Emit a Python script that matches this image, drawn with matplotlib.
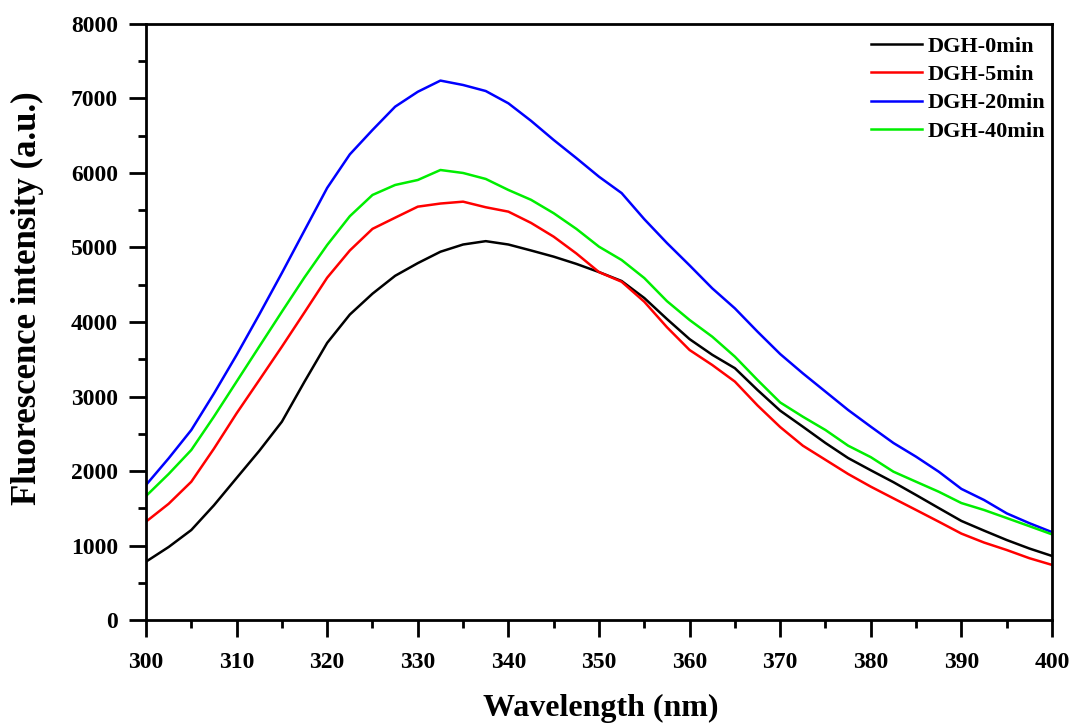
import matplotlib
matplotlib.use('Agg')
import matplotlib.pyplot as plt
from matplotlib.ticker import MultipleLocator
from matplotlib import rcParams
rcParams['font.family'] = 'serif'
rcParams['font.serif'] = ['Liberation Serif', 'DejaVu Serif']
rcParams['font.weight'] = 'bold'

# wavelength (nm)
wl = [300, 302.5, 305, 307.5, 310, 312.5, 315, 317.5, 320, 322.5, 325, 327.5,
      330, 332.5, 335, 337.5, 340, 342.5, 345, 347.5, 350, 352.5, 355, 357.5,
      360, 362.5, 365, 367.5, 370, 372.5, 375, 377.5, 380, 382.5, 385, 387.5,
      390, 392.5, 395, 397.5, 400]

dgh_0 = [783, 980, 1208, 1540, 1906, 2270, 2662, 3200, 3720, 4100, 4380, 4620,
         4790, 4943, 5040, 5085, 5040, 4960, 4877, 4780, 4670, 4550, 4322, 4040,
         3770, 3560, 3380, 3087, 2810, 2595, 2376, 2174, 2010, 1850, 1678, 1503,
         1330, 1200, 1074, 960, 860]
dgh_5 = [1320, 1560, 1856, 2300, 2774, 3220, 3669, 4130, 4595, 4960, 5250, 5400,
         5548, 5590, 5615, 5540, 5481, 5330, 5145, 4920, 4670, 4540, 4272, 3930,
         3624, 3423, 3200, 2880, 2590, 2340, 2150, 1960, 1790, 1633, 1477, 1320,
         1160, 1040, 940, 830, 740]
dgh_20 = [1812, 2170, 2550, 3040, 3557, 4100, 4658, 5230, 5800, 6250, 6577, 6890,
          7090, 7240, 7181, 7100, 6935, 6700, 6443, 6200, 5950, 5730, 5380, 5060,
          4760, 4452, 4183, 3870, 3570, 3311, 3065, 2819, 2595, 2376, 2192, 1991,
          1760, 1611, 1432, 1300, 1180]
dgh_40 = [1664, 1960, 2282, 2730, 3200, 3670, 4138, 4600, 5034, 5420, 5705, 5839,
          5906, 6040, 6000, 5920, 5772, 5640, 5460, 5250, 5011, 4832, 4590, 4280,
          4027, 3803, 3535, 3221, 2920, 2729, 2550, 2340, 2186, 1991, 1856, 1722,
          1570, 1477, 1369, 1260, 1150]

labels = ['DGH-0min', 'DGH-5min', 'DGH-20min', 'DGH-40min']
colors = ['black', 'red', 'blue', '#00ee00']

fig = plt.figure(figsize=(10.75, 7.24), dpi=100)
ax = fig.add_axes([0.1358, 0.1436, 0.8428, 0.8233])

for y, lab, col in zip([dgh_0, dgh_5, dgh_20, dgh_40], labels, colors):
    ax.plot(wl, y, color=col, lw=1.8, label=lab)

ax.set_xlim(300, 400)
ax.set_ylim(0, 8000)
ax.xaxis.set_major_locator(MultipleLocator(10))
ax.xaxis.set_minor_locator(MultipleLocator(5))
ax.yaxis.set_major_locator(MultipleLocator(1000))
ax.yaxis.set_minor_locator(MultipleLocator(500))
ax.tick_params(which='major', direction='out', length=12, width=2, labelsize=17)
ax.tick_params(which='minor', direction='out', length=6, width=2)
ax.tick_params(axis='x', which='major', pad=11)
ax.tick_params(axis='y', which='major', pad=8)
for sp in ax.spines.values():
    sp.set_linewidth(2)

ax.set_xlabel('Wavelength (nm)', fontsize=23, fontweight='bold')
ax.set_ylabel('Fluorescence intensity (a.u.)', fontsize=25, fontweight='bold')
ax.xaxis.set_label_coords(0.502, -0.124)
ax.yaxis.set_label_coords(-0.113, 0.54)

ax.legend(loc='upper right', bbox_to_anchor=(1.006, 1.0), frameon=False,
          fontsize=16, handlelength=2.3, handletextpad=0.25, labelspacing=0.35,
          borderpad=0.2, borderaxespad=0.35)

plt.savefig('out.png', dpi=100)
